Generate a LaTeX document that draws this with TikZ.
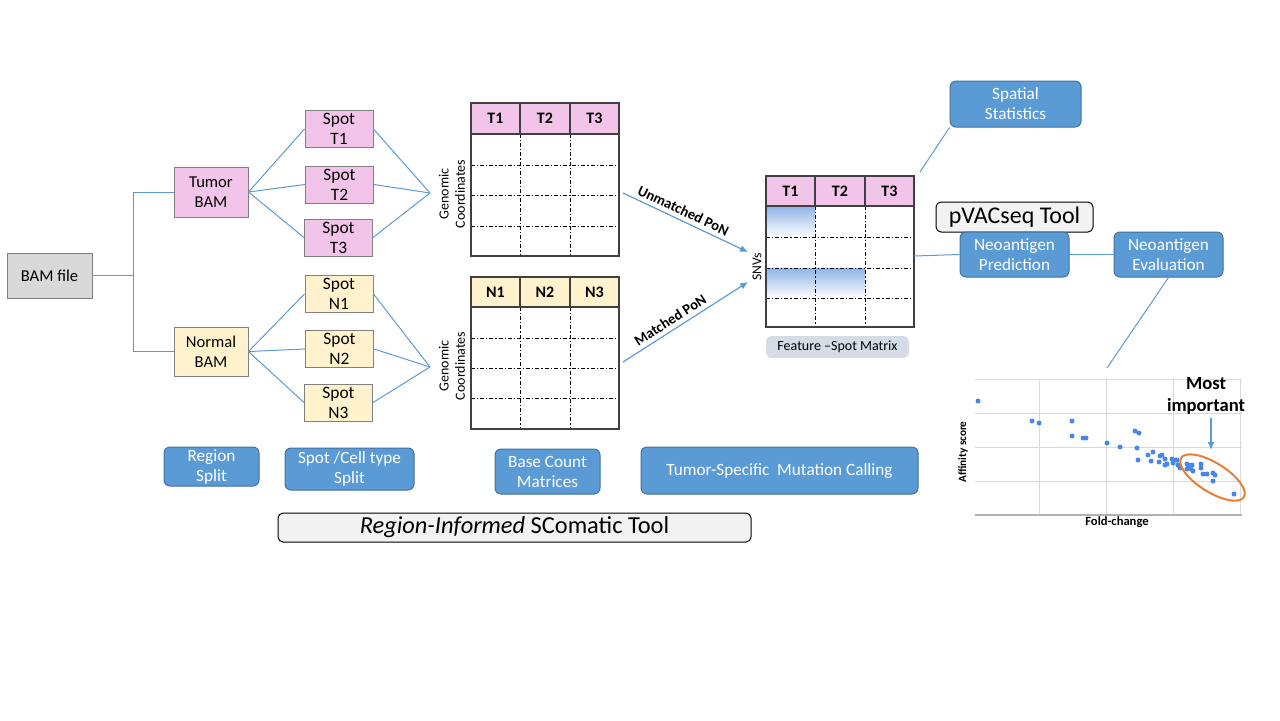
\documentclass[tikz,border=0pt]{standalone}
\usepackage{fontspec}
\setmainfont{Carlito}
\usetikzlibrary{arrows.meta}

\definecolor{tumorpink}{HTML}{F2C4EA}
\definecolor{normalyellow}{HTML}{FFF2CC}
\definecolor{bamgray}{HTML}{D9D9D9}
\definecolor{boxblue}{HTML}{5B9BD5}
\definecolor{boxedge}{HTML}{41719C}
\definecolor{linkblue}{HTML}{5B9BD5}
\definecolor{snvblue}{HTML}{8EB4E8}
\definecolor{labelgray}{HTML}{D6DCE5}
\definecolor{gridgray}{HTML}{D9D9D9}
\definecolor{dotblue}{HTML}{4A86E8}
\definecolor{ovalorange}{HTML}{ED7D31}

\begin{document}
\begin{tikzpicture}[x=0.5pt,y=-0.5pt,
  link/.style={draw=linkblue,line width=0.5pt},
  ponarrow/.style={draw=linkblue,line width=0.6pt,-{Latex[length=4pt,width=3.5pt]}},
  bambox/.style={draw=black!50,line width=0.5pt,align=center,inner sep=0pt,
    font=\fontsize{8.3}{10}\selectfont},
  spotbox/.style={draw=black!50,line width=0.5pt,align=center,inner sep=0pt,
    minimum width=34pt,minimum height=18.5pt,font=\fontsize{8.7}{10}\selectfont},
  stepbox/.style={draw=boxedge,fill=boxblue,rounded corners=3pt,line width=0.5pt,
    text=white,align=center,inner sep=0pt,font=\fontsize{8.6}{10}\selectfont},
  toolbox/.style={draw=black,fill=black!5,rounded corners=2.5pt,line width=0.5pt,
    inner sep=0pt},
  hdr/.style={font=\bfseries\fontsize{8}{10}\selectfont},
  matline/.style={draw=black!75,line width=0.8pt},
  cellline/.style={line width=0.5pt,dash pattern=on 2pt off 1pt on 0.6pt off 1pt},
  gridline/.style={draw=gridgray,line width=0.5pt},
  spotdot/.style={fill=dotblue}]
\useasboundingbox (0,0) rectangle (1280,720);

% BAM split
\node[bambox,fill=bamgray,minimum width=42.5pt,minimum height=22.5pt] (bam) at (49.5,275.5) {BAM file};
\node[bambox,fill=tumorpink,minimum width=37pt,minimum height=25pt] (tumor) at (211,192) {Tumor\\BAM};
\node[bambox,fill=normalyellow,minimum width=37pt,minimum height=24.5pt] (normal) at (211,351.5) {Normal\\BAM};
\coordinate (split) at (133,275.5);
\path[link] (bam.east) -- (split) |- (tumor.west);
\path[link] (split) |- (normal.west);

% spots
\node[spotbox,fill=tumorpink] (st1) at (339,129) {Spot\\T1};
\node[spotbox,fill=tumorpink] (st2) at (339.5,184.5) {Spot\\T2};
\node[spotbox,fill=tumorpink] (st3) at (338.5,237.5) {Spot\\T3};
\node[spotbox,fill=normalyellow] (sn1) at (339,294) {Spot\\N1};
\node[spotbox,fill=normalyellow] (sn2) at (339.5,349) {Spot\\N2};
\node[spotbox,fill=normalyellow] (sn3) at (338.5,402.5) {Spot\\N3};
\coordinate (tjoin) at (430,193);
\coordinate (njoin) at (430,367);
\path[link] (tumor.east) -- (st1.west);
\path[link] (tumor.east) -- (st2.west);
\path[link] (tumor.east) -- (st3.west);
\path[link] (st1.east) -- (tjoin);
\path[link] (st2.east) -- (tjoin);
\path[link] (st3.east) -- (tjoin);
\path[link] (normal.east) -- (sn1.west);
\path[link] (normal.east) -- (sn2.west);
\path[link] (normal.east) -- (sn3.west);
\path[link] (sn1.east) -- (njoin);
\path[link] (sn2.east) -- (njoin);
\path[link] (sn3.east) -- (njoin);

% tumor base count matrix
\fill[tumorpink] (471,103) rectangle (619,134);
\node[hdr] (tt1) at (495.5,118.5) {T1};
\node[hdr] (tt2) at (545,118.5) {T2};
\node[hdr] (tt3) at (594.5,118.5) {T3};
\draw[cellline] (471,165) -- (619,165);
\draw[cellline] (471,195) -- (619,195);
\draw[cellline] (471,226) -- (619,226);
\draw[cellline] (520,134) -- (520,256);
\draw[cellline] (570,134) -- (570,256);
\draw[matline] (520,103) -- (520,134);
\draw[matline] (570,103) -- (570,134);
\draw[matline] (471,134) -- (619,134);
\draw[matline] (471,103) rectangle (619,256);
\node[rotate=90,align=center,font=\fontsize{7}{8.2}\selectfont] (tgen) at (452,194) {Genomic\\Coordinates};

% normal base count matrix
\fill[normalyellow] (471,277) rectangle (619,307);
\node[hdr] (nn1) at (495.5,292) {N1};
\node[hdr] (nn2) at (545,292) {N2};
\node[hdr] (nn3) at (594.5,292) {N3};
\draw[cellline] (471,338) -- (619,338);
\draw[cellline] (471,368) -- (619,368);
\draw[cellline] (471,398) -- (619,398);
\draw[cellline] (520,307) -- (520,429);
\draw[cellline] (570,307) -- (570,429);
\draw[matline] (520,277) -- (520,307);
\draw[matline] (570,277) -- (570,307);
\draw[matline] (471,307) -- (619,307);
\draw[matline] (471,277) rectangle (619,429);
\node[rotate=90,align=center,font=\fontsize{7}{8.2}\selectfont] (ngen) at (452,366) {Genomic\\Coordinates};

% feature - spot matrix
\shade[top color=snvblue,bottom color=white] (766,206) rectangle (815,237);
\shade[top color=snvblue,bottom color=white] (766,268) rectangle (865,298);
\fill[tumorpink] (766,176) rectangle (914,206);
\node[hdr] (ft1) at (790.5,191) {T1};
\node[hdr] (ft2) at (840,191) {T2};
\node[hdr] (ft3) at (889.5,191) {T3};
\draw[cellline] (766,237) -- (914,237);
\draw[cellline] (766,268) -- (914,268);
\draw[cellline] (766,298) -- (914,298);
\draw[cellline] (815,206) -- (815,327);
\draw[cellline] (865,206) -- (865,327);
\draw[matline] (815,176) -- (815,206);
\draw[matline] (865,176) -- (865,206);
\draw[matline] (766,206) -- (914,206);
\draw[matline] (766,176) rectangle (914,327);
\node[rotate=90,font=\fontsize{6.8}{8}\selectfont] (snv) at (757,267) {SNVs};
\node[fill=labelgray,rounded corners=3pt,minimum width=71.5pt,minimum height=11pt,inner sep=0pt,
  font=\fontsize{7}{8}\selectfont] (fsm) at (837.5,347) {Feature –Spot Matrix};

% panel of normals
\coordinate (tout) at (623,193);
\coordinate (nout) at (623,362);
\coordinate (unin) at (748,252);
\coordinate (mtin) at (748,282);
\draw[ponarrow] (tout) -- (unin) node[pos=0.45,above,sloped,inner sep=2pt,
  font=\bfseries\fontsize{7.3}{8}\selectfont] {Unmatched PoN};
\draw[ponarrow] (nout) -- (mtin) node[pos=0.42,above,sloped,inner sep=2pt,
  font=\bfseries\fontsize{7.3}{8}\selectfont] {Matched PoN};

% downstream
\node[stepbox,minimum width=65.5pt,minimum height=23pt] (spat) at (1015.5,104) {Spatial\\Statistics};
\coordinate (fmtop) at (920,172);
\path[link] (spat.south west) -- (fmtop);
\node[toolbox,minimum width=78.5pt,minimum height=15pt,font=\fontsize{12}{13}\selectfont] (pvac) at (1014.5,217) {pVACseq Tool};
\node[stepbox,minimum width=54.5pt,minimum height=22.5pt] (pred) at (1014.5,254.5) {Neoantigen\\Prediction};
\node[stepbox,minimum width=54.5pt,minimum height=22.5pt] (eval) at (1168.5,254.5) {Neoantigen\\Evaluation};
\coordinate (fmout) at (914,256);
\path[link] (fmout) -- (pred.west);
\path[link] (pred.east) -- (eval.west);
\coordinate (plottop) at (1107,368);
\path[link] (eval.south) -- (plottop);

% affinity plot
\draw[gridline] (975,379) -- (1242,379);
\draw[gridline] (975,413) -- (1242,413);
\draw[gridline] (975,447) -- (1242,447);
\draw[gridline] (975,481) -- (1242,481);
\draw[gridline] (1039,379) -- (1039,515);
\draw[gridline] (1106,379) -- (1106,515);
\draw[gridline] (1173,379) -- (1173,515);
\draw[gridline] (1240,379) -- (1240,515);
\draw[draw=black!30,line width=0.8pt] (975,515) -- (1242,515);
\fill[spotdot] (978,401) circle[radius=1.25pt] (1032,421) circle[radius=1.25pt]
  (1039,423) circle[radius=1.25pt] (1072,421) circle[radius=1.25pt]
  (1072,436) circle[radius=1.25pt] (1083,438) circle[radius=1.25pt]
  (1086,438) circle[radius=1.25pt] (1107,443) circle[radius=1.25pt]
  (1120,447) circle[radius=1.25pt] (1135,431) circle[radius=1.25pt]
  (1139,433) circle[radius=1.25pt] (1137,448) circle[radius=1.25pt]
  (1138,460) circle[radius=1.25pt] (1148,455) circle[radius=1.25pt]
  (1151,461) circle[radius=1.25pt] (1153,452) circle[radius=1.25pt]
  (1160,456) circle[radius=1.25pt] (1162,455) circle[radius=1.25pt]
  (1159,462) circle[radius=1.25pt] (1165,459) circle[radius=1.25pt]
  (1165,465) circle[radius=1.25pt] (1167,464) circle[radius=1.25pt]
  (1172,459) circle[radius=1.25pt] (1175,460) circle[radius=1.25pt]
  (1177,460) circle[radius=1.25pt] (1173,463) circle[radius=1.25pt]
  (1178,465) circle[radius=1.25pt] (1180,468) circle[radius=1.25pt]
  (1187,464) circle[radius=1.25pt] (1188,465) circle[radius=1.25pt]
  (1189,467) circle[radius=1.25pt] (1192,465) circle[radius=1.25pt]
  (1187,469) circle[radius=1.25pt] (1191,469) circle[radius=1.25pt]
  (1193,471) circle[radius=1.25pt] (1201,464) circle[radius=1.25pt]
  (1201,468) circle[radius=1.25pt] (1203,474) circle[radius=1.25pt]
  (1207,474) circle[radius=1.25pt] (1213,473) circle[radius=1.25pt]
  (1215,475) circle[radius=1.25pt] (1213,481) circle[radius=1.25pt]
  (1234,494) circle[radius=1.25pt];
\coordinate (best) at (1212.5,477.5);
\draw[ovalorange,line width=1pt,rotate around={-32:(best)}] (best) ellipse[x radius=18.5pt,y radius=7.3pt];
\node[rotate=90,font=\bfseries\fontsize{5.6}{7}\selectfont] (affy) at (963,452) {Affinity score};
\node[font=\bfseries\fontsize{6.3}{7}\selectfont] (fold) at (1117,522) {Fold-change};
\node[align=center,inner sep=0pt,font=\bfseries\fontsize{9.3}{11}\selectfont] (mostimp) at (1206,396) {Most\\important};
\coordinate (mostpeak) at (1211,450);
\draw[ponarrow] (mostimp.south -| mostpeak) ++(0,3) -- (mostpeak);

% step labels
\node[stepbox,minimum width=47.5pt,minimum height=19.5pt] (regsplit) at (211.5,466.5) {Region\\Split};
\node[stepbox,minimum width=64.5pt,minimum height=21pt] (cellsplit) at (349.5,469) {Spot /Cell type\\Split};
\node[stepbox,minimum width=52.5pt,minimum height=22.5pt] (basecount) at (547.5,471.5) {Base Count\\Matrices};
\node[stepbox,minimum width=138.5pt,minimum height=23.5pt] (calling) at (779.5,470.5) {Tumor-Specific\ \ Mutation Calling};
\node[toolbox,minimum width=236.5pt,minimum height=14.5pt,font=\fontsize{12.2}{13}\selectfont] (scomatic) at (514.5,527.5) {\textit{Region-Informed} SComatic Tool};
\end{tikzpicture}
\end{document}
